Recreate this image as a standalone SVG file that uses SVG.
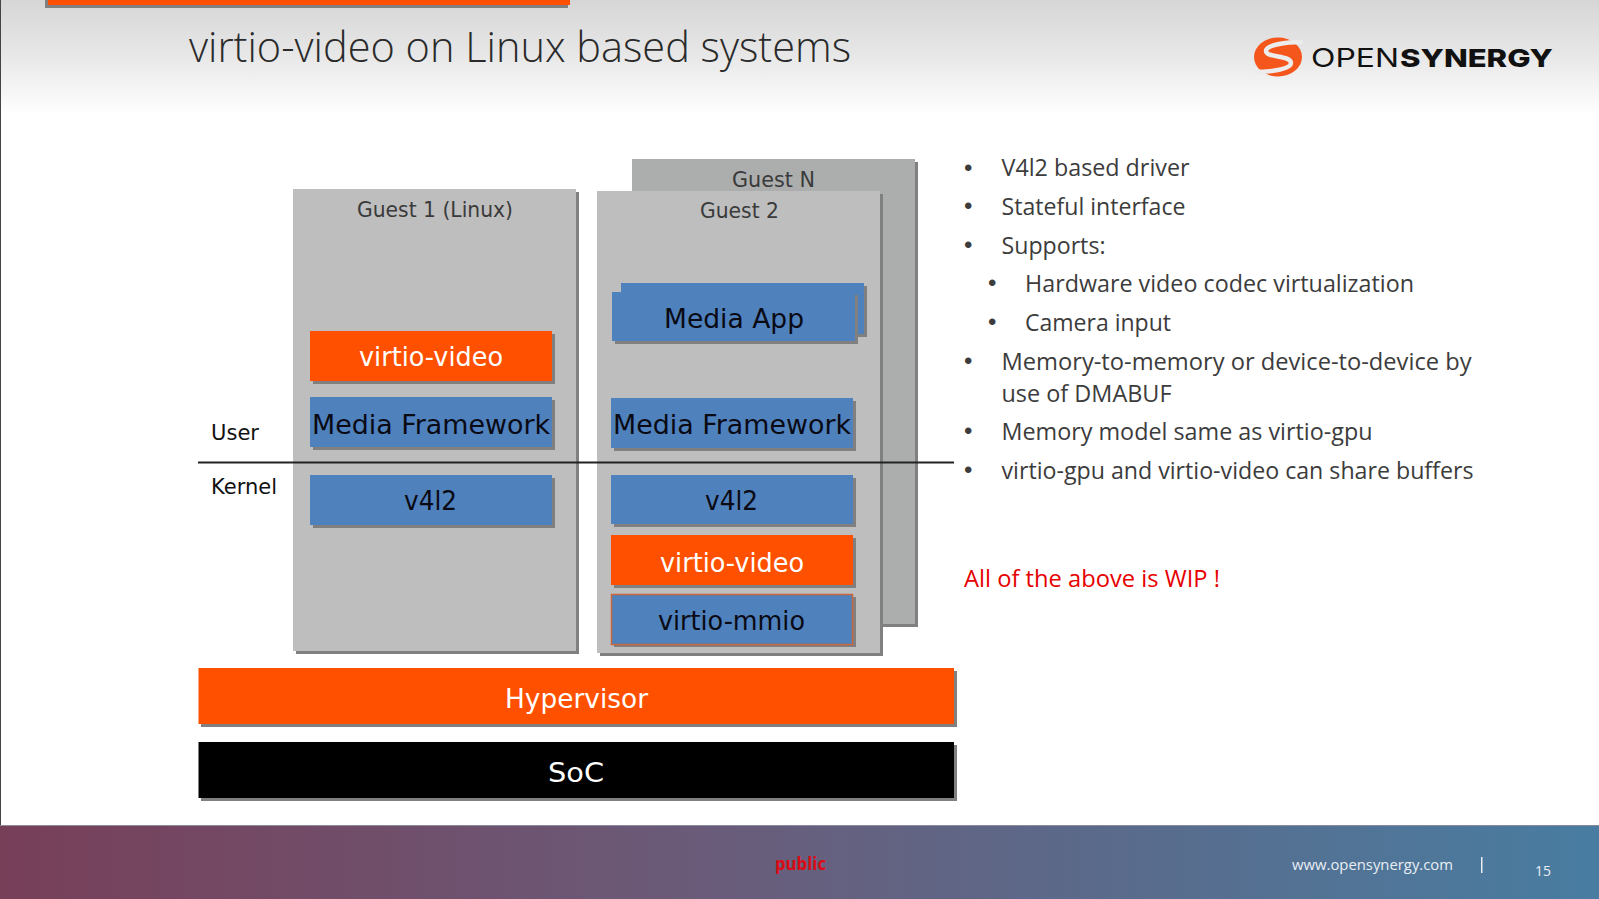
<svg xmlns="http://www.w3.org/2000/svg" width="1599" height="899" viewBox="0 0 1599 899">
<defs>
<linearGradient id="hdr" x1="0" y1="0" x2="0" y2="1"><stop offset="0" stop-color="#d6d6d6"/><stop offset="0.45" stop-color="#e6e6e6"/><stop offset="1" stop-color="#ffffff"/></linearGradient>
<linearGradient id="ftr" x1="0" y1="0" x2="1" y2="0"><stop offset="0" stop-color="#783f59"/><stop offset="0.45" stop-color="#695c7a"/><stop offset="1" stop-color="#487da1"/></linearGradient>
</defs>
<style>
.sh{fill:#808080}
.gN{fill:#acaeae}
.g{fill:#bebebe}
.bl{fill:#4f81bd}
.or{fill:#ff5000}
.bk{fill:#000}
.lb{font-family:"DejaVu Sans",sans-serif;fill:#0a0a14;font-size:26px}
.wh{fill:#fff}
.gl{font-family:"DejaVu Sans",sans-serif;fill:#3a3a3a;font-size:21px}
.ul{font-family:"DejaVu Sans",sans-serif;fill:#111;font-size:21px}
.tx{font-family:"Open Sans",sans-serif;fill:#3c3c3c;font-size:24px}
.bu{font-family:"Liberation Sans",sans-serif;fill:#3c3c3c;font-size:24px}
.ft{font-family:"Open Sans",sans-serif;fill:#e8eef4;font-size:15px}
</style>
<rect width="1599" height="899" fill="#fff"/>
<rect width="1599" height="115" fill="url(#hdr)"/>
<rect x="0" y="0" width="1" height="825" fill="#444"/>
<rect x="45" y="-4" width="523" height="12" class="sh"/>
<rect x="48" y="-4" width="522" height="9" class="or"/>
<text x="189" y="61.500" font-family="Open Sans, sans-serif" font-weight="300" font-size="42" fill="#2a2a2a" textLength="662" lengthAdjust="spacingAndGlyphs">virtio-video on Linux based systems</text>
<g id="logo">
<ellipse cx="1278" cy="57" rx="24" ry="19.5" fill="#f4561c"/>
<path d="M1303 42C1285 42 1266 45 1266 51C1266 58 1291 55 1291 63C1291 69 1272 72 1254 72" fill="none" stroke="#ececec" stroke-width="4.5"/>
<text x="1311" y="66.500" font-family="Inter, sans-serif" font-weight="400" font-size="25" fill="#111" textLength="88" lengthAdjust="spacingAndGlyphs">OPEN</text>
<text x="1400" y="66.500" font-family="Inter, sans-serif" font-weight="800" font-size="25" fill="#111" textLength="153" lengthAdjust="spacingAndGlyphs">SYNERGY</text>
</g>
<g id="guest-n">
<rect x="635" y="162" width="283" height="465" class="sh"/>
<rect x="632" y="159" width="283" height="465" class="gN"/>
<text x="732" y="187" class="gl" textLength="83" lengthAdjust="spacingAndGlyphs">Guest N</text>
</g>
<g id="guest-1">
<rect x="296" y="192" width="283" height="462" class="sh"/>
<rect x="293" y="189" width="283" height="462" class="g"/>
<text x="357" y="217" class="gl" textLength="156" lengthAdjust="spacingAndGlyphs">Guest 1 (Linux)</text>
</g>
<g id="guest-2">
<rect x="600" y="194" width="283" height="462" class="sh"/>
<rect x="597" y="191" width="283" height="462" class="g"/>
<text x="700" y="218" class="gl" textLength="79" lengthAdjust="spacingAndGlyphs">Guest 2</text>
</g>
<g id="vv-1">
<rect x="313" y="334" width="242" height="50" class="sh"/>
<rect x="310" y="331" width="242" height="50" class="or"/>
<text x="359" y="366" class="lb wh" textLength="144" lengthAdjust="spacingAndGlyphs">virtio-video</text>
</g>
<g id="mf-1">
<rect x="313" y="400" width="242" height="50" class="sh"/>
<rect x="310" y="397" width="242" height="50" class="bl"/>
<text x="312" y="433.500" class="lb" textLength="238" lengthAdjust="spacingAndGlyphs">Media Framework</text>
</g>
<g id="v4l2-1">
<rect x="313" y="478" width="242" height="50" class="sh"/>
<rect x="310" y="475" width="242" height="50" class="bl"/>
<text x="404" y="510" class="lb" textLength="53" lengthAdjust="spacingAndGlyphs">v4l2</text>
</g>
<g id="media-app">
<rect x="624" y="286" width="243" height="51" class="sh"/>
<rect x="621" y="283" width="243" height="51" class="bl"/>
<rect x="615" y="295" width="243" height="49" class="sh"/>
<rect x="612" y="292" width="243" height="49" class="bl"/>
<text x="664" y="328" class="lb" textLength="140" lengthAdjust="spacingAndGlyphs">Media App</text>
</g>
<g id="mf-2">
<rect x="614" y="401" width="242" height="50" class="sh"/>
<rect x="611" y="398" width="242" height="50" class="bl"/>
<text x="613" y="434" class="lb" textLength="238" lengthAdjust="spacingAndGlyphs">Media Framework</text>
</g>
<g id="v4l2-2">
<rect x="614" y="478" width="242" height="49" class="sh"/>
<rect x="611" y="475" width="242" height="49" class="bl"/>
<text x="705" y="510" class="lb" textLength="53" lengthAdjust="spacingAndGlyphs">v4l2</text>
</g>
<g id="vv-2">
<rect x="614" y="538" width="242" height="50" class="sh"/>
<rect x="611" y="535" width="242" height="50" class="or"/>
<text x="660" y="572" class="lb wh" textLength="144" lengthAdjust="spacingAndGlyphs">virtio-video</text>
</g>
<g id="mmio">
<rect x="614" y="597" width="242" height="50" class="sh"/>
<rect x="611.500" y="594.500" width="241" height="50" class="bl" stroke="#c8663c" stroke-width="1.500"/>
<text x="658" y="630" class="lb" textLength="147" lengthAdjust="spacingAndGlyphs">virtio-mmio</text>
</g>
<g id="hypervisor">
<rect x="201" y="671" width="756" height="56" class="sh"/>
<rect x="198.500" y="668" width="755.500" height="56" class="or"/>
<text x="505" y="708" class="lb wh" textLength="143" lengthAdjust="spacingAndGlyphs">Hypervisor</text>
</g>
<g id="soc">
<rect x="201" y="745" width="756" height="56" class="sh"/>
<rect x="198.500" y="742" width="755.500" height="56" class="bk"/>
<text x="548" y="782" class="lb wh" textLength="56" lengthAdjust="spacingAndGlyphs">SoC</text>
</g>
<g id="connectors">
<line x1="198" y1="462.500" x2="954" y2="462.500" stroke="#222" stroke-width="2"/>
</g>
<g id="labels">
<text x="211" y="440" class="ul" textLength="48" lengthAdjust="spacingAndGlyphs">User</text>
<text x="211" y="494" class="ul" textLength="66" lengthAdjust="spacingAndGlyphs">Kernel</text>
</g>
<g id="bullets">
<text x="964" y="176" class="bu">•</text>
<text x="1001.500" y="176" class="tx" textLength="188" lengthAdjust="spacingAndGlyphs">V4l2 based driver</text>
<text x="964" y="214" class="bu">•</text>
<text x="1001.500" y="215" class="tx" textLength="184" lengthAdjust="spacingAndGlyphs">Stateful interface</text>
<text x="964" y="253" class="bu">•</text>
<text x="1001.500" y="254" class="tx" textLength="104" lengthAdjust="spacingAndGlyphs">Supports:</text>
<text x="988" y="291" class="bu">•</text>
<text x="1025" y="292" class="tx" textLength="389" lengthAdjust="spacingAndGlyphs">Hardware video codec virtualization</text>
<text x="988" y="330" class="bu">•</text>
<text x="1025" y="331" class="tx" textLength="146" lengthAdjust="spacingAndGlyphs">Camera input</text>
<text x="964" y="369" class="bu">•</text>
<text x="1001.500" y="370" class="tx" textLength="470" lengthAdjust="spacingAndGlyphs">Memory-to-memory or device-to-device by</text>
<text x="1001.500" y="402" class="tx" textLength="170" lengthAdjust="spacingAndGlyphs">use of DMABUF</text>
<text x="964" y="439" class="bu">•</text>
<text x="1001.500" y="440" class="tx" textLength="371" lengthAdjust="spacingAndGlyphs">Memory model same as virtio-gpu</text>
<text x="964" y="478" class="bu">•</text>
<text x="1001.500" y="479" class="tx" textLength="472" lengthAdjust="spacingAndGlyphs">virtio-gpu and virtio-video can share buffers</text>
<text x="964" y="587" class="tx" style="fill:#e60000" textLength="256" lengthAdjust="spacingAndGlyphs">All of the above is WIP !</text>
</g>
<g id="footer">
<rect x="0" y="825" width="1599" height="74" fill="url(#ftr)"/>
<rect x="0" y="825" width="1599" height="1" fill="#8a8a9a"/>
<text x="775" y="870" font-family="Open Sans, sans-serif" font-weight="700" font-size="17" fill="#dd0a14" textLength="51" lengthAdjust="spacingAndGlyphs">public</text>
<text x="1292" y="870" class="ft" textLength="161" lengthAdjust="spacingAndGlyphs">www.opensynergy.com</text>
<rect x="1481" y="857" width="1.500" height="16" fill="#e8eef4"/>
<text x="1535" y="876" class="ft" textLength="16" lengthAdjust="spacingAndGlyphs">15</text>
</g>
</svg>
